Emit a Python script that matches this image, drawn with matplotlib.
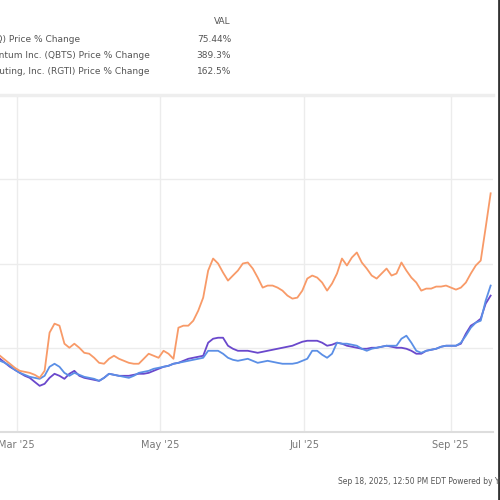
import pandas as pd
import matplotlib.pyplot as plt
import matplotlib.dates as mdates
from matplotlib.lines import Line2D

# sample dates (regular steps across the visible window)
dates = pd.date_range("2025-02-22", "2025-09-18", periods=100)

# % change readings, one per sample date
orange = [-9.5, -14.3, -19.0, -23.8, -27.4, -28.6, -29.8, -32.1, -35.7, -27.4,
          17.9, 28.6, 26.2, 4.8, 0.0, 4.8, 0.0, -6.0, -7.1, -11.9,
          -17.9, -19.0, -13.1, -9.5, -13.1, -15.5, -17.9, -19.0, -19.0, -13.1,
          -7.1, -9.5, -11.9, -3.6, -7.1, -13.1, 23.8, 26.2, 26.2, 32.1,
          44.0, 59.5, 91.6, 105.9, 100.0, 89.3, 79.7, 85.7, 91.6, 100.0,
          101.2, 94.0, 83.3, 71.4, 73.8, 73.8, 71.4, 67.8, 61.9, 58.3,
          59.5, 67.8, 82.1, 85.7, 83.3, 77.4, 67.8, 76.2, 88.1, 105.9,
          97.6, 107.1, 113.1, 101.2, 94.0, 85.7, 82.1, 88.1, 94.0, 85.7,
          88.1, 101.2, 91.6, 83.3, 77.4, 67.8, 70.2, 70.2, 72.6, 72.6,
          73.8, 71.4, 69.0, 71.4, 77.4, 88.1, 97.6, 103.5, 142.8, 183.3]

blue = [-15.5, -17.9, -21.4, -26.2, -29.8, -32.1, -34.5, -35.7, -36.9, -33.3,
        -22.6, -19.0, -22.6, -29.8, -33.3, -29.8, -32.1, -34.5, -35.7, -36.9,
        -39.3, -35.7, -30.9, -32.1, -33.3, -34.5, -35.7, -33.3, -29.8, -28.6,
        -27.4, -25.0, -23.8, -22.6, -21.4, -19.0, -17.9, -16.7, -15.5, -14.3,
        -13.1, -11.9, -3.6, -3.6, -3.6, -7.1, -11.9, -14.3, -15.5, -14.3,
        -13.1, -15.5, -17.9, -16.7, -15.5, -16.7, -17.9, -19.0, -19.0, -19.0,
        -17.9, -15.5, -13.1, -3.6, -3.6, -8.3, -11.9, -7.1, 6.0, 4.8,
        4.8, 3.6, 2.4, -1.2, -3.6, -1.2, 0.0, 1.2, 2.4, 2.4,
        2.4, 10.7, 14.3, 6.0, -3.6, -6.0, -3.6, -2.4, -1.2, 1.2,
        2.4, 2.4, 2.4, 6.0, 14.3, 23.8, 29.8, 32.1, 55.9, 73.8]

purple = [-13.1, -17.9, -22.6, -26.2, -29.8, -33.3, -35.7, -40.5, -45.2, -42.8,
          -35.7, -30.9, -33.3, -36.9, -30.9, -27.4, -33.3, -35.7, -36.9, -38.1,
          -39.3, -35.7, -30.9, -32.1, -33.3, -33.3, -33.3, -32.1, -30.9, -30.9,
          -29.8, -27.4, -25.0, -22.6, -21.4, -19.0, -17.9, -15.5, -13.1, -11.9,
          -10.7, -9.5, 6.0, 10.7, 11.9, 11.9, 2.4, -1.2, -3.6, -3.6,
          -3.6, -4.8, -6.0, -4.8, -3.6, -2.4, -1.2, 0.0, 1.2, 2.4,
          4.8, 7.1, 8.3, 8.3, 8.3, 6.0, 2.4, 3.6, 6.0, 4.8,
          2.4, 1.2, 0.0, -1.2, -1.2, 0.0, 0.0, 1.2, 2.4, 1.2,
          0.0, 0.0, -1.2, -3.6, -7.1, -7.1, -3.6, -2.4, -1.2, 1.2,
          2.4, 2.4, 2.4, 4.8, 16.7, 26.2, 29.8, 34.5, 52.4, 61.9]

legend_names = ["IonQ, Inc. (IONQ) Price % Change",
                "D-Wave Quantum Inc. (QBTS) Price % Change",
                "Rigetti Computing, Inc. (RGTI) Price % Change"]
legend_vals = ["75.44%", "389.3%", "162.5%"]
y_ticks = [-100, 0, 100, 200, 300]
x_ticks = ["2025-03-01", "2025-05-01", "2025-07-01", "2025-09-01"]

c_orange = "#f89a68"
c_blue = "#5b8fe6"
c_purple = "#6a48cc"

fig = plt.figure(figsize=(5, 5), dpi=100)
ax = fig.add_axes([0.0, 0.136, 0.986, 0.674])

ax.plot(dates, purple, color=c_purple, lw=1.3)
ax.plot(dates, blue, color=c_blue, lw=1.3)
ax.plot(dates, orange, color=c_orange, lw=1.3)

ax.set_xlim(pd.Timestamp("2025-02-22"), pd.Timestamp("2025-09-19"))
ax.set_ylim(-100, 300)
ax.set_yticks(y_ticks)
ax.set_xticks(pd.to_datetime(x_ticks))
ax.xaxis.set_major_formatter(mdates.DateFormatter("%b '%y"))
ax.grid(True, color="#ececec", lw=1)
ax.tick_params(axis="y", left=False, labelleft=False)
ax.tick_params(axis="x", length=0, pad=6, labelsize=7, labelcolor="#777777")
for s in ["left", "right"]:
    ax.spines[s].set_visible(False)
ax.spines["bottom"].set_color("#dddddd")
ax.spines["bottom"].set_linewidth(1.5)
ax.spines["top"].set_color("#eeeeee")
ax.spines["top"].set_linewidth(2.5)

# legend block (cut off at the left edge like the source)
txt = "#555555"
fig.text(231 / 500, 1 - 22 / 500, "VAL", ha="right", va="center", fontsize=6.5, color=txt)
ends = [80, 150, 150]
rows = [40, 55, 71]
for name, val, e, r in zip(legend_names, legend_vals, ends, rows):
    fig.text(e / 500, 1 - r / 500, name, ha="right", va="center", fontsize=6.5, color=txt)
    fig.text(231 / 500, 1 - r / 500, val, ha="right", va="center", fontsize=6.5, color=txt)

fig.text(338 / 500, 1 - 482 / 500, "Sep 18, 2025, 12:50 PM EDT Powered by YCHARTS",
         ha="left", va="center", fontsize=5.5, color=txt)

# dark frame edge on the right
fig.add_artist(Line2D([0.997, 0.997], [0, 1], transform=fig.transFigure, color="#333333", lw=2))

fig.savefig("out.png", dpi=100, facecolor="white")
